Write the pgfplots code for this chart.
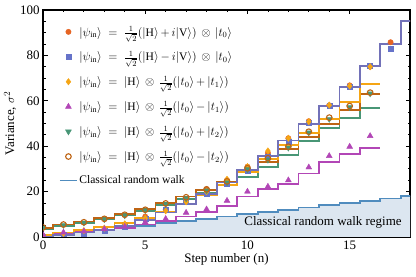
\documentclass[border=0pt]{standalone}
\usepackage{amsmath}
\usepackage{pgfplots}
\pgfplotsset{compat=1.18}
\usepackage{pgfplotstable}
\usepackage{fontspec}
\setmainfont{Liberation Serif}
\definecolor{cOr}{RGB}{230,100,35}
\definecolor{cBl}{RGB}{102,115,201}
\definecolor{cYe}{RGB}{245,165,20}
\definecolor{cPu}{RGB}{178,70,182}
\definecolor{cGr}{RGB}{72,150,118}
\definecolor{cBr}{RGB}{190,100,20}
\definecolor{cCl}{RGB}{80,140,190}
\definecolor{cFi}{RGB}{220,230,240}

% n  theory  experiment
\pgfplotstableread{
n th ex
0 0 0.3
1 1 1.2
2 2 2.3
3 3 3.3
4 5 5.5
5 7.6 9.0
6 10.8 12.0
7 14.6 16.5
8 19.0 21.0
9 24.0 25.0
10 29.6 31.0
11 35.8 37.0
12 42.5 43.5
13 49.8 51.0
14 57.7 58.0
15 66.2 66.8
16 75.3 75.0
17 85.0 85.8
18 95.3 96.0
18.5 95.3 nan
}\orangeT
\pgfplotstableread{
n th ex
0 0 0.2
1 1 0.8
2 2 1.6
3 3 2.6
4 5 4.6
5 7.6 8.2
6 10.8 11.9
7 14.6 15.6
8 19.0 18.9
9 24.0 23.5
10 29.6 29.2
11 35.8 35.5
12 42.5 41.8
13 49.8 50.3
14 57.7 57.8
15 66.2 66.2
16 75.3 75.3
17 85.0 83.0
18 95.3 94.0
18.5 95.3 nan
}\blueT
\pgfplotstableread{
n th ex
0 1.0 0.8
1 2.0 1.6
2 3.0 2.8
3 4.3 3.9
4 6.0 5.8
5 8.2 8.3
6 11.0 11.5
7 14.3 15.5
8 18.3 20.0
9 23.0 25.4
10 28.5 31.0
11 34.5 37.9
12 40.5 43.5
13 45.7 50.8
14 52.0 58.1
15 59.6 66.5
16 67.4 75.0
16.5 67.4 nan
}\yellowT
\pgfplotstableread{
n th ex
0 1.0 1.0
1 1.5 2.0
2 2.2 2.5
3 3.0 3.5
4 4.0 4.5
5 5.5 6.5
6 7.0 8.0
7 9.0 10.7
8 11.0 12.2
9 13.8 16.0
10 17.8 20.0
11 21.0 22.2
12 23.5 25.0
13 28.0 30.7
14 32.9 35.7
15 36.4 39.8
16 39.3 44.5
16.5 39.3 nan
}\purpleT
\pgfplotstableread{
n th ex
0 3.5 4.0
1 5.0 5.3
2 6.3 6.3
3 7.8 7.8
4 9.5 9.5
5 11.5 11.8
6 14.0 14.5
7 16.8 17.0
8 19.5 20.5
9 22.7 24.0
10 26.5 29.8
11 30.7 34.0
12 36.1 39.3
13 42.3 46.0
14 48.1 52.0
15 52.3 57.2
16 56.7 63.2
16.5 56.7 nan
}\greenT
\pgfplotstableread{
n th ex
0 4.0 4.2
1 5.5 5.5
2 6.8 6.5
3 8.3 8.0
4 10.1 9.8
5 12.2 12.0
6 15.0 14.8
7 17.8 17.5
8 20.8 21.0
9 24.3 24.5
10 28.5 30.3
11 33.2 34.7
12 38.6 39.8
13 44.2 46.4
14 49.8 52.6
15 55.9 57.7
16 62.9 63.6
16.5 62.9 nan
}\brownT
\pgfplotstableread{
n c
0 0
1 1
2 2
3 3
4 4
5 5
6 6
7 7
8 8
9 9
10 10
11 11
12 12
13 13
14 14
15 15
16 16
17 17
18 18
18.5 18
}\classT

\newcommand{\psin}{|\psi_{\mathrm{in}}\rangle\;=\;}
\begin{document}
\begin{tikzpicture}
\useasboundingbox (-43bp,-40bp) rectangle (373bp,237bp);
\begin{axis}[
  at={(0,0)}, anchor=south west,
  scale only axis, width=367bp, height=227bp,
  xmin=0, xmax=17.95, ymin=0, ymax=100,
  xtick={0,5,10,15}, minor x tick num=4,
  ytick={0,20,40,60,80,100}, minor y tick num=3,
  tick pos=both, xticklabel pos=lower, yticklabel pos=left,
  tick align=inside,
  major tick length=4.5bp, minor tick length=2.5bp,
  tick style={black, line width=0.8bp},
  axis line style={black, line width=1.3bp},
  /pgf/number format/assume math mode=true,
  ticklabel style={font=\fontsize{13}{15}\selectfont},
  label style={font=\fontsize{13}{15}\selectfont},
  xlabel={Step number (n)},
  ylabel={Variance, $\sigma^2$},
  xlabel style={yshift=3bp},
  ylabel style={yshift=-3bp},
  clip marker paths=true,
  legend cell align=left,
  legend style={draw=none, fill=none, at={(0.035,0.945)}, anchor=north west,
    font=\fontsize{11.6}{13}\selectfont, row sep=10.6bp,
    nodes={inner sep=1.5bp}},
  every axis plot/.append style={line width=1.8bp},
]
\addplot[fill=cFi, draw=none, const plot mark mid, forget plot] table[x=n,y=c]{\classT} \closedcycle;
\addplot[cCl, const plot mark mid, forget plot] table[x=n,y=c]{\classT};
\addplot[cPu, const plot mark mid, forget plot] table[x=n,y=th]{\purpleT};
\addplot[cGr, const plot mark mid, forget plot] table[x=n,y=th]{\greenT};
\addplot[cBr, const plot mark mid, forget plot] table[x=n,y=th]{\brownT};
\addplot[cYe, const plot mark mid, forget plot] table[x=n,y=th]{\yellowT};
\addplot[cOr, const plot mark mid, forget plot] table[x=n,y=th]{\orangeT};
\addplot[cBl, const plot mark mid, forget plot, opacity=0.9] table[x=n,y=th]{\blueT};

\addplot[only marks, mark=*, mark size=2.7bp, mark options={fill=cOr, draw=cOr, line width=0.4bp}] table[x=n,y=ex]{\orangeT};
\addlegendentry{$\psin\tfrac{1}{\sqrt{2}}(|\mathrm{H}\rangle\,{+}\,i|\mathrm{V}\rangle)\,\otimes\,|t_0\rangle$}
\addplot[only marks, mark=square*, mark size=2.5bp, mark options={fill=cBl, draw=cBl, line width=0.4bp}] table[x=n,y=ex]{\blueT};
\addlegendentry{$\psin\tfrac{1}{\sqrt{2}}(|\mathrm{H}\rangle\,{-}\,i|\mathrm{V}\rangle)\,\otimes\,|t_0\rangle$}
\addplot[only marks, mark=diamond*, mark size=3.2bp, mark options={fill=cYe, draw=cYe, line width=0.4bp}] table[x=n,y=ex]{\yellowT};
\addlegendentry{$\psin|\mathrm{H}\rangle\,\otimes\,\tfrac{1}{\sqrt{2}}(|t_0\rangle\,{+}\,|t_1\rangle)$}
\addplot[only marks, mark=triangle*, mark size=3.4bp, mark options={fill=cPu, draw=cPu, line width=0.4bp}] table[x=n,y=ex]{\purpleT};
\addlegendentry{$\psin|\mathrm{H}\rangle\,\otimes\,\tfrac{1}{\sqrt{2}}(|t_0\rangle\,{-}\,|t_1\rangle)$}
\addplot[only marks, mark=triangle*, mark size=3.4bp, mark options={fill=cGr, draw=cGr, rotate=180, line width=0.4bp}] table[x=n,y=ex]{\greenT};
\addlegendentry{$\psin|\mathrm{H}\rangle\,\otimes\,\tfrac{1}{\sqrt{2}}(|t_0\rangle\,{+}\,|t_2\rangle)$}
\addplot[only marks, mark=o, mark size=2.8bp, mark options={draw=cBr, line width=1.1bp}] table[x=n,y=ex]{\brownT};
\addlegendentry{$\psin|\mathrm{H}\rangle\,\otimes\,\tfrac{1}{\sqrt{2}}(|t_0\rangle\,{-}\,|t_2\rangle)$}
\addlegendimage{cCl, line width=1.8bp}
\addlegendentry{Classical random walk}

\node[anchor=east, font=\fontsize{13}{15}\selectfont, inner sep=0pt] at (axis cs:17.55,6.3) {Classical random walk regime};
\end{axis}
\end{tikzpicture}
\end{document}
